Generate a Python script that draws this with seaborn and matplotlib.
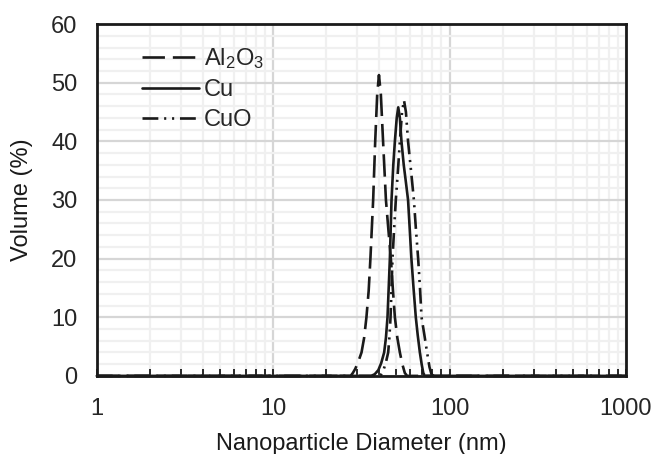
import numpy as np
import pandas as pd
import matplotlib
matplotlib.use("Agg")
import matplotlib.pyplot as plt
import matplotlib.ticker as mticker
import seaborn as sns

# Particle size distributions (diameter in nm, volume in %)
al2o3_d = [1.0, 27.5, 28.3, 29.2, 30.2, 31.7, 32.8, 33.8, 34.8, 35.6, 36.9, 37.9, 38.9,
           39.8, 40.8, 42.0, 43.6, 45.0, 46.5, 47.8, 49.0, 50.6, 52.3, 54.0, 55.8, 57.5, 1000.0]
al2o3_v = [0, 0, 0.5, 1.2, 2.2, 4.0, 6.5, 10, 14.5, 20, 30, 40, 48,
           51.3, 48, 40, 30, 25, 20, 14.5, 10, 6.5, 4.0, 2.0, 0.5, 0, 0]

cu_d = [1.0, 36.0, 37.7, 39.5, 41.0, 42.6, 43.6, 44.5, 45.2, 45.9, 46.9, 48.0, 49.0, 50.2,
        51.2, 52.3, 53.4, 55.0, 56.6, 58.2, 59.5, 60.8, 62.5, 64.4, 66.0, 67.9, 69.5, 71.0,
        72.5, 1000.0]
cu_v = [0, 0, 0.3, 1.0, 2.2, 4.0, 6.5, 10, 15, 20, 30, 36, 40, 44,
        45.8, 44, 40, 36, 33, 30, 25, 20, 15, 10, 7, 4, 2, 0.5,
        0, 0]

cuo_d = [1.0, 40.5, 42.0, 43.5, 44.9, 45.6, 46.3, 46.9, 47.5, 48.5, 49.6, 51.0, 52.3, 53.8,
         55.2, 56.6, 58.2, 60.5, 62.8, 64.5, 66.4, 68.0, 69.4, 72.0, 74.6, 77.0, 79.0, 81.0,
         1000.0]
cuo_v = [0, 0, 0.8, 2.2, 4, 6.5, 10, 15, 20, 25, 30, 35, 40, 45,
         47, 45, 40, 35, 30, 25, 20, 15, 10, 7, 4, 1.5, 0.3, 0,
         0]

labels = ["Al$_2$O$_3$", "Cu", "CuO"]
x_ticks = [1, 10, 100, 1000]
y_ticks = [0, 10, 20, 30, 40, 50, 60]

sns.set_style("white")
plt.rcParams["font.family"] = ["Liberation Sans", "DejaVu Sans"]
plt.rcParams["mathtext.fontset"] = "custom"
plt.rcParams["mathtext.rm"] = "Liberation Sans"
plt.rcParams["mathtext.it"] = "Liberation Sans:italic"

fig = plt.figure(figsize=(6.54, 4.54), dpi=100)
ax = fig.add_axes([0.148, 0.172, 0.809, 0.775])

ink = "#1a1a1a"
lw = 1.9
sns.lineplot(x=al2o3_d, y=al2o3_v, ax=ax, color=ink, lw=lw,
             linestyle=(0, (8.5, 3)), label=labels[0], clip_on=False)
sns.lineplot(x=cu_d, y=cu_v, ax=ax, color=ink, lw=lw,
             linestyle="-", label=labels[1], clip_on=False)
sns.lineplot(x=cuo_d, y=cuo_v, ax=ax, color=ink, lw=lw,
             linestyle=(0, (6, 2.2, 0.8, 2.2, 0.8, 2.2)), label=labels[2], clip_on=False)

ax.set_xscale("log")
ax.set_xlim(1, 1000)
ax.set_ylim(0, 60)
ax.set_xticks(x_ticks)
ax.xaxis.set_major_formatter(mticker.FuncFormatter(lambda v, p: f"{v:g}"))
ax.xaxis.set_minor_locator(mticker.LogLocator(base=10, subs=np.arange(2, 10)))
ax.xaxis.set_minor_formatter(mticker.NullFormatter())
ax.set_yticks(y_ticks)
ax.yaxis.set_minor_locator(mticker.MultipleLocator(2))

ax.grid(which="major", color="#d6d6d6", lw=1.6)
ax.grid(which="minor", color="#f0f0f0", lw=1.6)
ax.set_axisbelow(True)

for s in ax.spines.values():
    s.set_color(ink)
    s.set_linewidth(2)

ax.tick_params(axis="x", which="both", direction="in", length=5, width=1.3,
               color=ink, bottom=True, labelsize=17, pad=16)
ax.tick_params(axis="y", which="both", length=0, labelsize=17, pad=14)

ax.set_xlabel("Nanoparticle Diameter (nm)", fontsize=17, labelpad=9, color=ink)
ax.set_ylabel("Volume (%)", fontsize=17, labelpad=13, color=ink)

ax.legend(loc="upper left", bbox_to_anchor=(0.068, 0.965), frameon=False,
          fontsize=17, handlelength=2.4, handletextpad=0.2, labelspacing=0.35,
          borderaxespad=0)

fig.savefig("out.png", dpi=100)
